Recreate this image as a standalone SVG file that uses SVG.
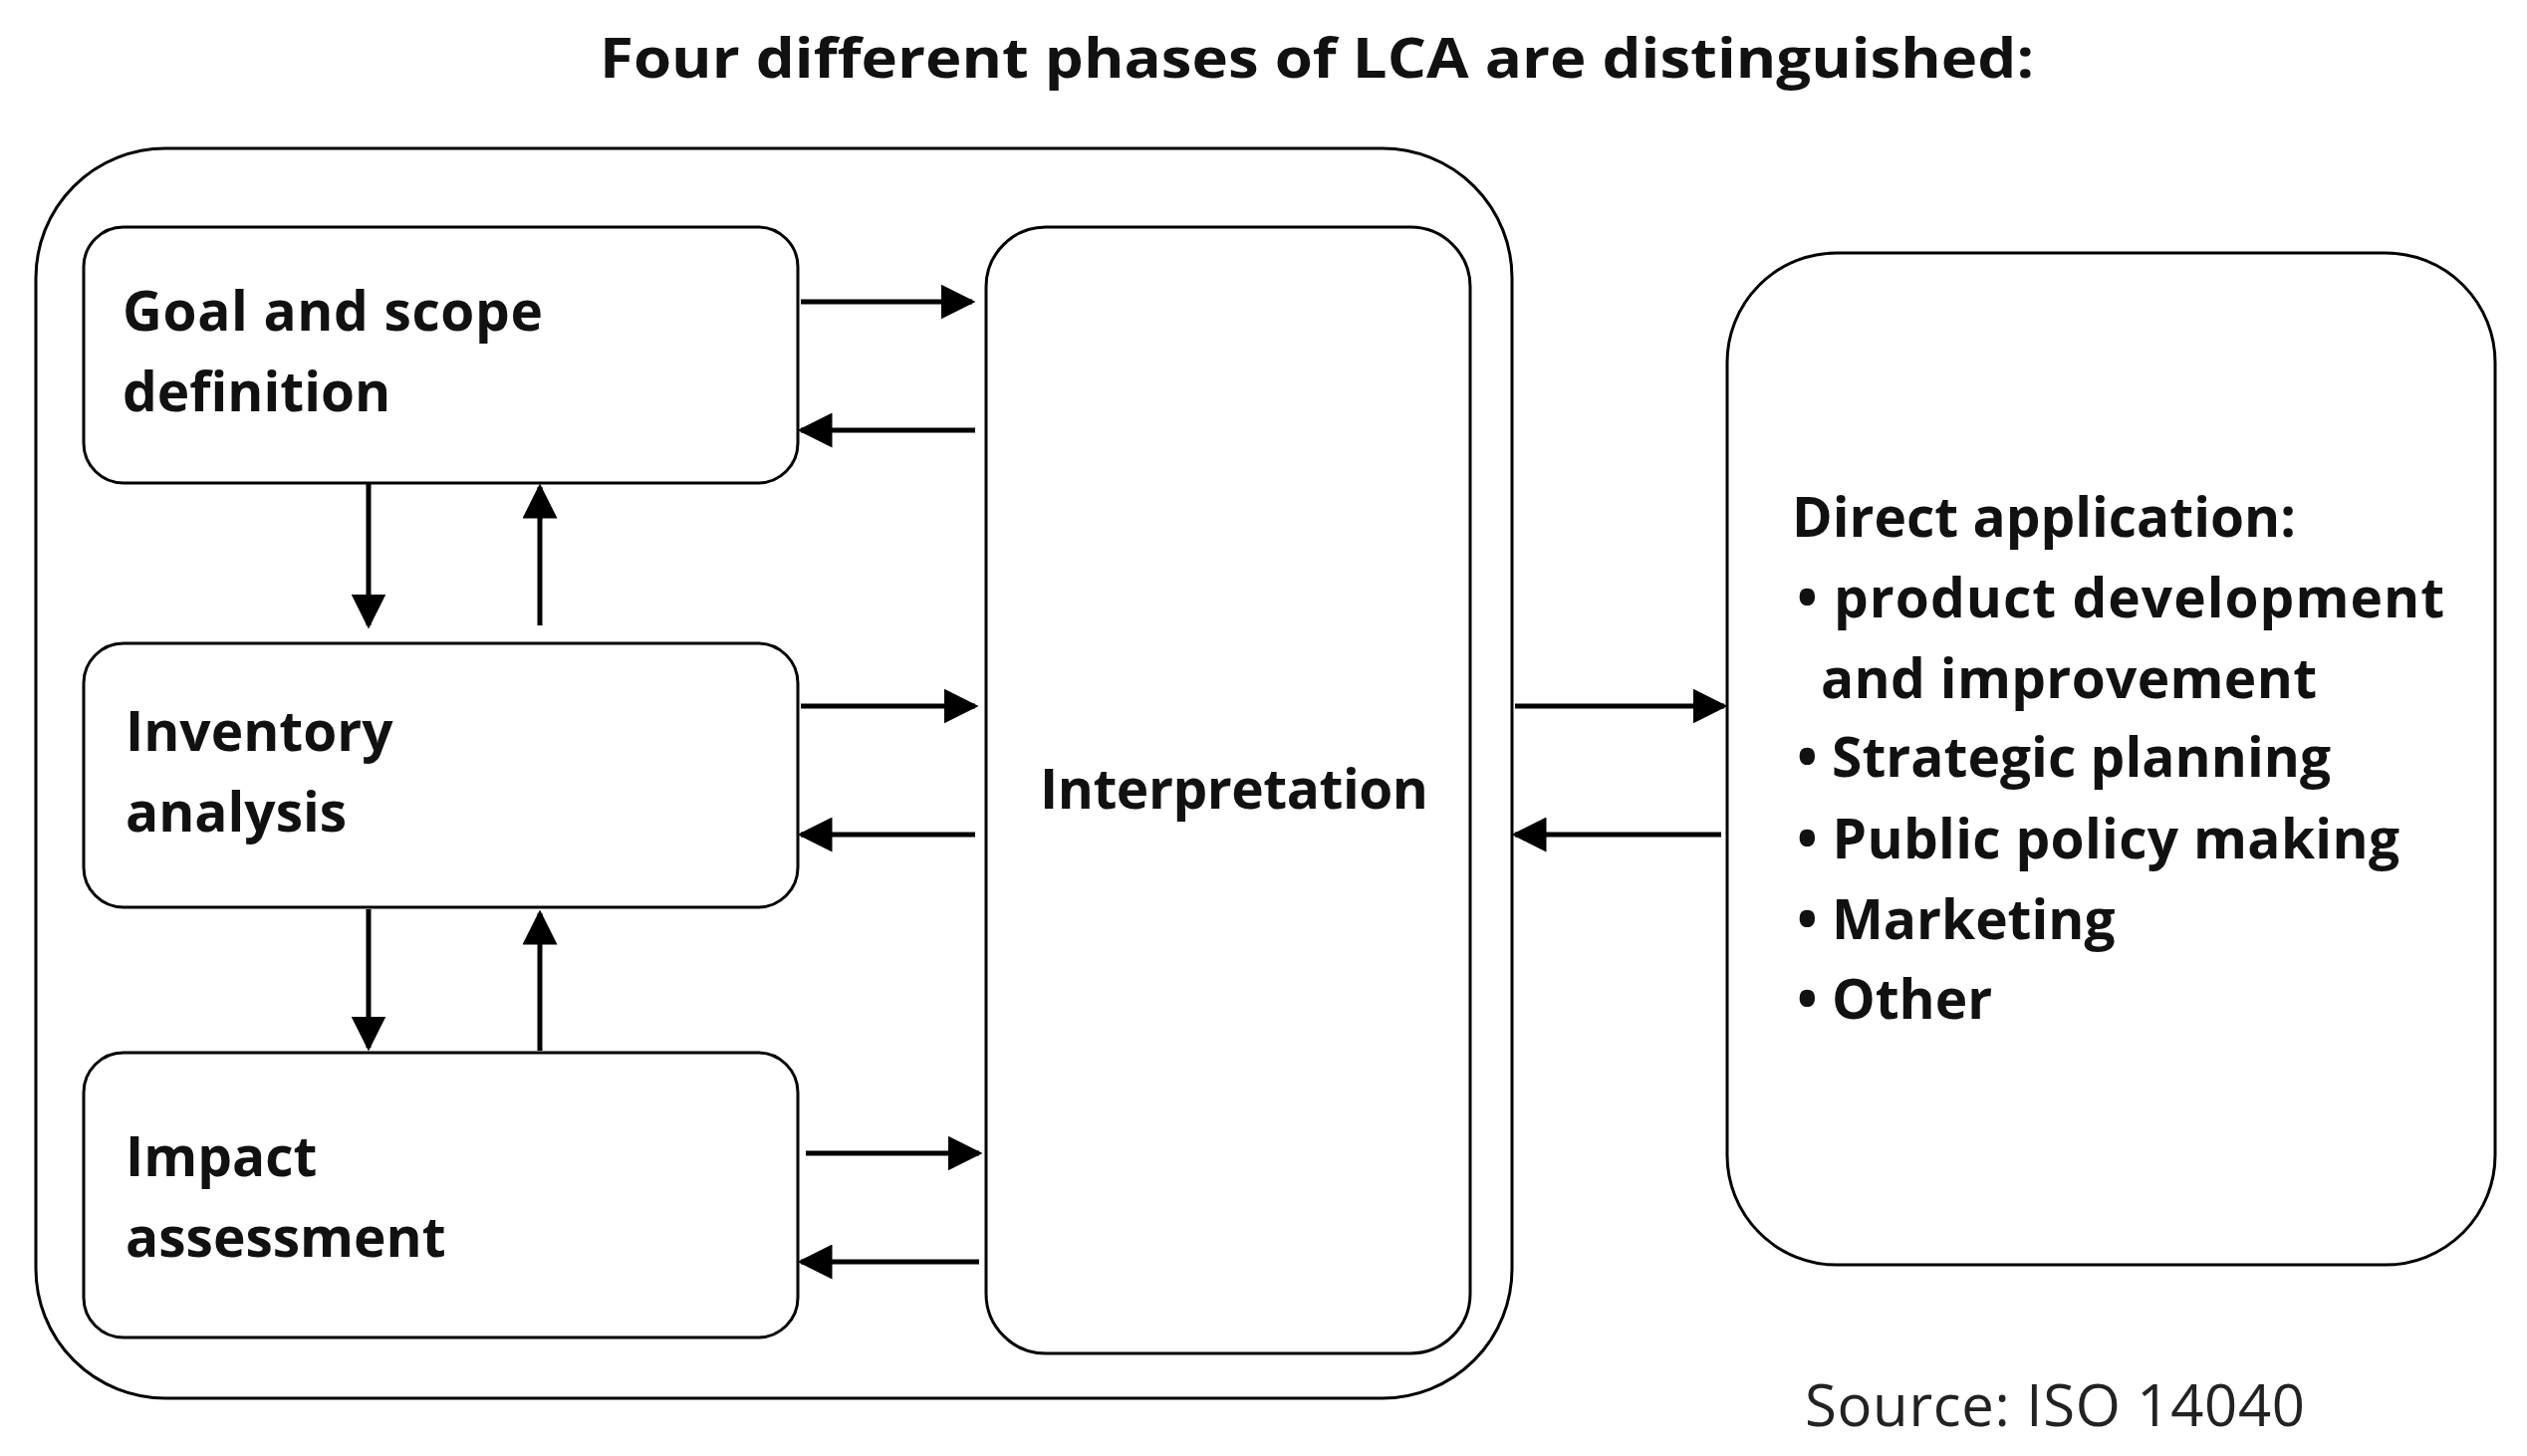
<svg xmlns="http://www.w3.org/2000/svg" width="2537" height="1462" viewBox="0 0 2537 1462">
<style>
.b{fill:#fff;stroke:#000;stroke-width:3}
.t{font-family:"Open Sans","Liberation Sans",sans-serif;font-weight:bold;font-size:55px;fill:#111}
.c line{stroke:#000;stroke-width:5;marker-end:url(#a)}
</style>
<defs><marker id="a" viewBox="0 0 10 10" refX="9" refY="5" markerWidth="7" markerHeight="7" orient="auto" markerUnits="strokeWidth"><path d="M0,0L10,5L0,10z"/></marker></defs>
<rect width="2537" height="1462" fill="#fff"/>
<text class="t" x="602" y="78" font-size="64" textLength="1440" lengthAdjust="spacingAndGlyphs">Four different phases of LCA are distinguished:</text>
<g id="outer"><rect class="b" x="36" y="149" width="1482" height="1255" rx="130"/></g>
<g id="goal"><rect class="b" x="84" y="228" width="717" height="257" rx="40"/><text class="t" x="123" y="332" textLength="422">Goal and scope</text><text class="t" x="123" y="413">definition</text></g>
<g id="inventory"><rect class="b" x="84" y="646" width="717" height="265" rx="40"/><text class="t" x="126" y="754">Inventory</text><text class="t" x="126" y="835">analysis</text></g>
<g id="impact"><rect class="b" x="84" y="1057" width="717" height="286" rx="40"/><text class="t" x="126" y="1181">Impact</text><text class="t" x="126" y="1262">assessment</text></g>
<g id="interp"><rect class="b" x="990" y="228" width="486" height="1131" rx="60"/><text class="t" x="1044" y="812" textLength="390">Interpretation</text></g>
<g id="app"><rect class="b" x="1734" y="254" width="771" height="1016" rx="110"/>
<text class="t" x="1799" y="539">Direct application:</text>
<text class="t" x="1804" y="620" textLength="650">• product development</text>
<text class="t" x="1828" y="701" textLength="498">and improvement</text>
<text class="t" x="1804" y="780" textLength="536">• Strategic planning</text>
<text class="t" x="1804" y="862" textLength="605">• Public policy making</text>
<text class="t" x="1804" y="943">• Marketing</text>
<text class="t" x="1804" y="1023">• Other</text></g>
<text x="1812" y="1432" font-family="'Open Sans','Liberation Sans',sans-serif" font-size="58" fill="#222" textLength="502">Source: ISO 14040</text>
<g class="c">
<line x1="804" y1="303" x2="976" y2="303"/><line x1="979" y1="432" x2="804" y2="432"/>
<line x1="804" y1="709" x2="979" y2="709"/><line x1="979" y1="838" x2="804" y2="838"/>
<line x1="809" y1="1158" x2="983" y2="1158"/><line x1="983" y1="1267" x2="804" y2="1267"/>
<line x1="370" y1="485" x2="370" y2="628"/><line x1="542" y1="628" x2="542" y2="489"/>
<line x1="370" y1="913" x2="370" y2="1052"/><line x1="542" y1="1055" x2="542" y2="917"/>
<line x1="1521" y1="709" x2="1731" y2="709"/><line x1="1728" y1="838" x2="1521" y2="838"/>
</g>
</svg>
